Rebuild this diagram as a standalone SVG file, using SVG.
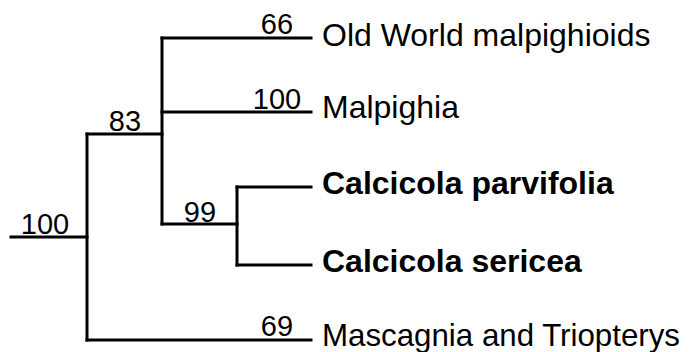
<svg xmlns="http://www.w3.org/2000/svg" width="692" height="352" viewBox="0 0 692 352">
<style>
.br{fill:none;stroke:#000;stroke-width:3;stroke-linecap:square}
.lab{font-family:"Liberation Sans",Arial,sans-serif;font-size:32px;fill:#000}
.b{font-weight:bold}
.num{font-family:"Liberation Sans",Arial,sans-serif;font-size:29px;fill:#000;text-anchor:middle}
</style>
<rect width="692" height="352" fill="#fff"/>
<g id="connectors">
<path class="br" d="M11,237 H87"/>
<path class="br" d="M87,134 V340"/>
<path class="br" d="M87,134 H162"/>
<path class="br" d="M87,340 H311"/>
<path class="br" d="M162,38 V224"/>
<path class="br" d="M162,38 H311"/>
<path class="br" d="M162,112 H311"/>
<path class="br" d="M162,224 H237"/>
<path class="br" d="M237,187 V265"/>
<path class="br" d="M237,187 H311"/>
<path class="br" d="M237,265 H311"/>
</g>
<g id="support">
<text class="num" x="45" y="234">100</text>
<text class="num" x="125" y="131">83</text>
<text class="num" x="200" y="222">99</text>
<text class="num" x="277" y="34">66</text>
<text class="num" x="277" y="109">100</text>
<text class="num" x="277" y="336">69</text>
</g>
<g id="n-oldworld"><text class="lab" x="322" y="46">Old World malpighioids</text></g>
<g id="n-malpighia"><text class="lab" x="322" y="118">Malpighia</text></g>
<g id="n-parvifolia"><text class="lab b" x="322" y="194">Calcicola parvifolia</text></g>
<g id="n-sericea"><text class="lab b" x="322" y="272">Calcicola sericea</text></g>
<g id="n-mascagnia"><text class="lab" x="322" y="346" textLength="358" lengthAdjust="spacingAndGlyphs">Mascagnia and Triopterys</text></g>
</svg>
